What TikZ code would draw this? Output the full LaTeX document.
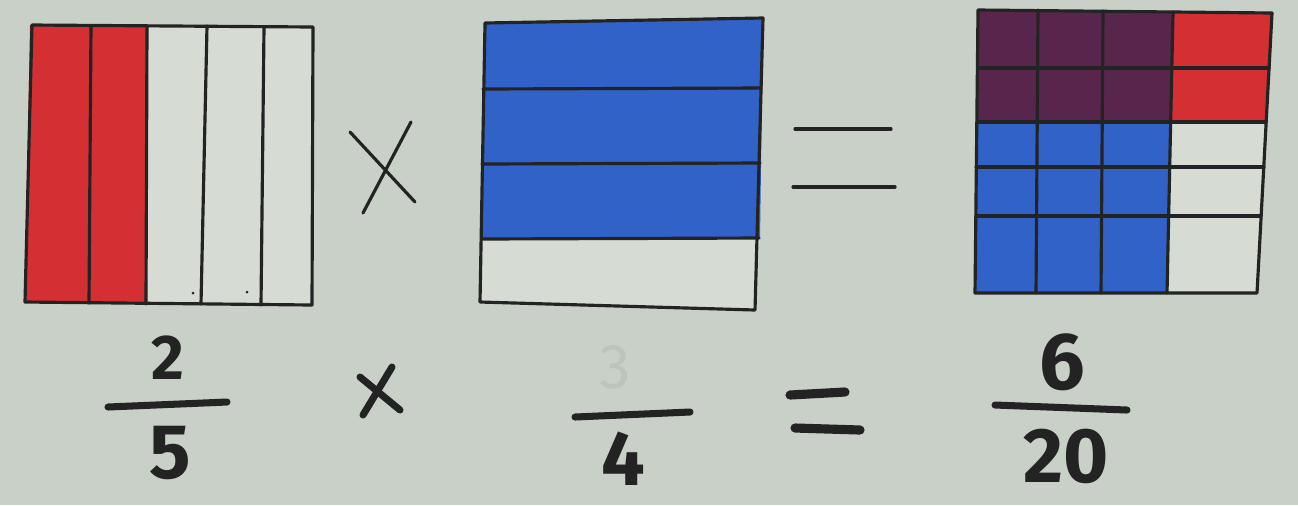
\documentclass[tikz,border=0pt]{standalone}
\usepackage{fontspec}
\setmainfont{Fira Sans}
\usetikzlibrary{positioning}
\definecolor{paper}{RGB}{201,208,200}
\definecolor{cellwhite}{RGB}{214,219,212}
\definecolor{redfill}{RGB}{212,48,52}
\definecolor{bluefill}{RGB}{48,98,200}
\definecolor{purplefill}{RGB}{88,38,76}
\definecolor{inkgray}{RGB}{35,35,35}
\definecolor{ghost}{RGB}{188,197,188}

\begin{document}
\begin{tikzpicture}[x=0.01cm, y=-0.01cm,
        ink/.style={draw=inkgray, line width=0.9pt, line cap=round, line join=round},
        bar/.style={draw=inkgray, line width=2pt, line cap=round},
        digit/.style={text=inkgray, inner sep=0pt, font=\bfseries}
    ]
    \fill[paper] (0,0) rectangle (1298,505);
    \useasboundingbox (0,0) rectangle (1298,505);

    % two fifths
    \fill[redfill] (30,25) -- (147,26) -- (147,304) -- (25,302) -- cycle;
    \fill[cellwhite] (147,26) -- (313,27) -- (312,305) -- (147,304) -- cycle;
    \draw[ink] (91,26) -- (89,303);
    \draw[ink] (147,26) -- (146,304);
    \draw[ink] (207,26) -- (201,304);
    \draw[ink] (264,27) -- (261,305);
    \draw[ink] (32,25) -- (313,27) -- (312,305) -- (25,302) -- cycle;
    \fill[inkgray] (193,293) circle (1.5) (247,292) circle (1.5);

    % big times
    \draw[ink] (350,132) -- (415,202);
    \draw[ink] (411,122) -- (363,213);

    % three quarters
    \fill[bluefill] (485,23) -- (763,18) -- (760,239) -- (482,239) -- cycle;
    \fill[cellwhite] (482,239) -- (760,239) -- (755,310) -- (480,302) -- cycle;
    \draw[ink] (483,89) -- (761,88);
    \draw[ink] (482,164) -- (760,163);
    \draw[ink] (482,239) -- (759,238);
    \draw[ink] (485,23) -- (763,18) -- (755,310) -- (480,302) -- cycle;

    % big equals
    \draw[ink] (795,129) -- (891,129);
    \draw[ink] (793,187) -- (895,187);

    % product grid
    \fill[purplefill] (978,10) -- (1172,12) -- (1171,122) -- (977,122) -- cycle;
    \fill[redfill] (1172,12) -- (1272,13) -- (1266,122) -- (1171,122) -- cycle;
    \fill[bluefill] (977,122) -- (1171,122) -- (1167,293) -- (975,293) -- cycle;
    \fill[cellwhite] (1171,122) -- (1266,122) -- (1257,293) -- (1167,293) -- cycle;
    \draw[ink] (978,68) -- (1269,68);
    \draw[ink] (977,122) -- (1266,122);
    \draw[ink] (976,167) -- (1264,167);
    \draw[ink] (976,216) -- (1261,216);
    \draw[ink] (1038,10) -- (1036,293);
    \draw[ink] (1103,11) -- (1101,293);
    \draw[ink] (1173,12) -- (1167,293);
    \draw[ink] (978,10) -- (1272,13) -- (1257,293) -- (975,293) -- cycle;

    % fractions
    \node[digit, font=\bfseries\fontsize{18}{18}\selectfont] (twoNum) at (168,358) {2};
    \draw[bar] (108,407) -- (227,402);
    \node[digit, font=\bfseries\fontsize{22}{22}\selectfont] (fiveDen) at (170,453) {5};

    \draw[ink, line width=2pt] (360,377) -- (400,410);
    \draw[ink, line width=2pt] (392,367) -- (363,415);

    \node[digit, text=ghost, font=\fontsize{18}{18}\selectfont] (threeNum) at (615,367) {3};
    \draw[bar] (575,417) -- (690,412);
    \node[digit, font=\bfseries\fontsize{22}{22}\selectfont] (fourDen) at (623,459) {4};

    \draw[ink, line width=2.6pt] (790,395) -- (845,392);
    \draw[ink, line width=2.6pt] (795,428) -- (860,430);

    \node[digit, font=\bfseries\fontsize{23}{23}\selectfont] (sixNum) at (1062,362) {6};
    \draw[bar] (995,405) -- (1127,410);
    \node[digit, font=\bfseries\fontsize{22}{22}\selectfont] (twentyDen) at (1066,456) {20};
\end{tikzpicture}
\end{document}
